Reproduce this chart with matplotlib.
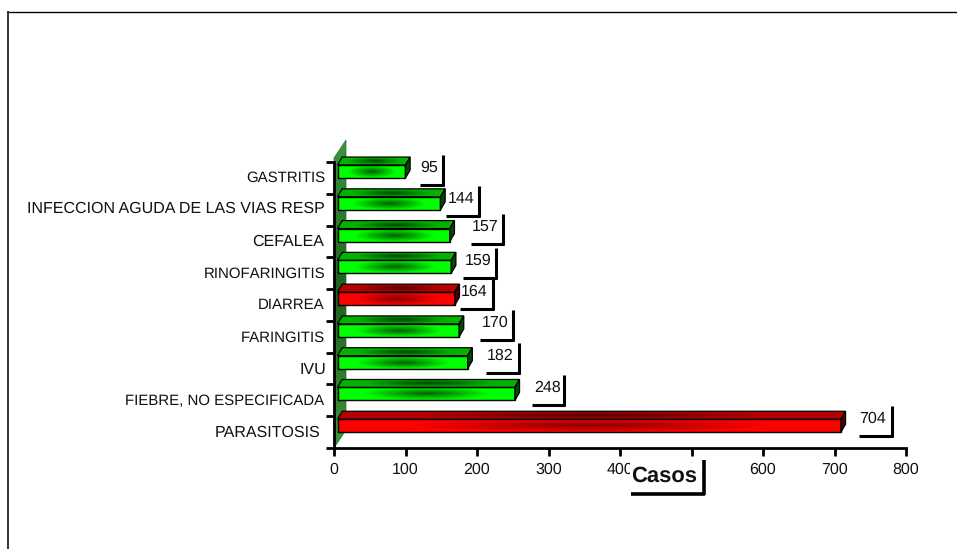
import numpy as np
import matplotlib
matplotlib.use("Agg")
import matplotlib.pyplot as plt
from matplotlib.patches import Polygon
from matplotlib.colors import LinearSegmentedColormap
from matplotlib.lines import Line2D

plt.rcParams['font.family'] = ['Liberation Sans', 'DejaVu Sans']
plt.rcParams['text.hinting'] = 'no_hinting'
plt.rcParams['text.hinting_factor'] = 1

categories = ["PARASITOSIS", "FIEBRE, NO ESPECIFICADA", "IVU", "FARINGITIS", "DIARREA",
              "RINOFARINGITIS", "CEFALEA", "INFECCION AGUDA DE LAS VIAS RESP", "GASTRITIS"]
values = [704, 248, 182, 170, 164, 159, 157, 144, 95]
highlight = [True, False, False, False, True, False, False, False, False]
x_ticks = [0, 100, 200, 300, 400, 500, 600, 700, 800]

# layout, in reference pixels
W, H = 957, 549
label_right = [320, 324, 326, 325, 324, 325, 324, 325, 325]
label_y = [433, 401, 370, 338, 305, 274, 242, 209, 178]
label_size = [11.2, 11.0, 11.2, 11.0, 11.0, 11.0, 11.2, 11.6, 11.0]
callout_x = [873, 548, 500, 495, 474, 478, 485, 461, 429]
callout_y = [418, 387, 355, 322, 291, 260, 226, 198, 167]
callout_vx = [892, 564, 519, 513, 493, 496, 503, 479, 443]
callout_left = [859, 532, 486, 480, 460, 463, 471, 446, 420]

AX_TOP = 135
fig = plt.figure(figsize=(W / 100, H / 100), dpi=100, facecolor='white')
ax = fig.add_axes([334 / W, 1 - 448 / H, (906 - 334) / W, (448 - AX_TOP) / H])
px_x = 800 / (906 - 334)
px_y = 9 / (448 - 162)
ymax = (448 - AX_TOP) * px_y
ax.set_xlim(0, 800)
ax.set_ylim(0, ymax)
ax.patch.set_alpha(0)

def fx(x): return x / W
def fy(y): return 1 - y / H
def fline(xs, ys, color='black', lw=2.2, z=20):
    fig.add_artist(Line2D([fx(v) for v in xs], [fy(v) for v in ys], color=color, lw=lw,
                          solid_capstyle='butt', zorder=z))

# outer frame
fline([7, 957], [11.5, 11.5], lw=1.0)
fline([8, 8], [11, 549], color='#333333', lw=1.4)

front_left = 3.5 * px_x
depth_x = 4.7 * px_x
depth_y = 8 * px_y
row_h = 13 * px_y

def blob(dark, bright):
    cmap = LinearSegmentedColormap.from_list('c', [dark, bright])
    xx, yy = np.meshgrid(np.linspace(-1, 1, 300), np.linspace(-1, 1, 40))
    d = np.sqrt((xx / 0.72) ** 2 + (yy / 1.0) ** 2)
    return np.clip(d, 0, 1) ** 1.1, cmap

palette = {
    True: dict(front=('#8a0000', '#ff0000'), top=('#5a0000', '#b80000'), side='#4a0000'),
    False: dict(front=('#006400', '#00ff00'), top=('#004a00', '#00b400'), side='#004a00'),
}

# wall
wall_pts = [(0, 0), (12 * px_x, 18 * px_y), (12 * px_x, 308 * px_y), (0, 290 * px_y)]
wall = Polygon(wall_pts, closed=True, facecolor='none', edgecolor='#2c6e2c', lw=0.5, clip_on=False, zorder=2)
ax.add_patch(wall)
wall_cmap = LinearSegmentedColormap.from_list('w', ['#3c963c', '#1f5f1f', '#3c963c'])
wall_img = ax.imshow(np.linspace(0, 1, 100).reshape(-1, 1), extent=[0, 12 * px_x, 0, 308 * px_y],
                     cmap=wall_cmap, aspect='auto', zorder=1.5)
wall_img.set_clip_path(wall)

# bars
ys = [i + 0.70 for i in range(len(values))]
bars = ax.barh(ys, values, height=row_h, left=front_left, facecolor='none', edgecolor='black',
               lw=1.0, zorder=6, clip_on=False)
for v, y, hl, bar in zip(values, ys, highlight, bars):
    p = palette[hl]
    x0, x1 = front_left, front_left + v
    y0, y1 = y - row_h / 2, y + row_h / 2
    z, cm = blob(*p['front'])
    im = ax.imshow(z, extent=[x0, x1, y0, y1], cmap=cm, vmin=0, vmax=1, aspect='auto', zorder=5)
    im.set_clip_path(bar)
    top = Polygon([(x0, y1), (x1, y1), (x1 + depth_x, y1 + depth_y), (x0 + depth_x, y1 + depth_y)],
                  closed=True, facecolor='none', edgecolor='black', lw=0.9, zorder=6, clip_on=False)
    ax.add_patch(top)
    z, cm = blob(*p['top'])
    im = ax.imshow(z, extent=[x0, x1 + depth_x, y1, y1 + depth_y], cmap=cm, vmin=0, vmax=1,
                   aspect='auto', zorder=5)
    im.set_clip_path(top)
    ax.add_patch(Polygon([(x1, y0), (x1 + depth_x, y0 + depth_y), (x1 + depth_x, y1 + depth_y), (x1, y1)],
                         closed=True, facecolor=p['side'], edgecolor='black', lw=0.9, zorder=6, clip_on=False))
ax.set_xlim(0, 800)
ax.set_ylim(0, ymax)

# axes
for s in ('top', 'right'):
    ax.spines[s].set_visible(False)
for s in ('left', 'bottom'):
    ax.spines[s].set_linewidth(2.0)
    ax.spines[s].set_zorder(8)
ax.spines['left'].set_bounds(0, 9)
ax.set_xticks(x_ticks)
ax.set_yticks(range(10))
ax.set_yticklabels([])
ax.tick_params(axis='x', length=5.5, width=2, pad=5, labelsize=11.6, colors='black')
ax.tick_params(axis='y', length=5.5, width=2)
for lab in ax.get_xticklabels():
    lab.set_color('#111111')

# category labels
for name, r, y, size in zip(categories, label_right, label_y, label_size):
    fig.text(fx(r), fy(y), name, ha='right', va='center', fontsize=size, color='#111111')

# value callouts
for v, tx, ty, vx, lx in zip(values, callout_x, callout_y, callout_vx, callout_left):
    fig.text(fx(tx), fy(ty + 0.5), str(v), ha='center', va='center', fontsize=11.6, color='#111111', zorder=21)
    fline([vx, vx], [ty - 12, ty + 19], lw=2.2)
    fline([lx, vx + 1], [ty + 18, ty + 18], lw=2.2)

# axis title
fig.patches.append(plt.Rectangle((fx(630), fy(494)), 73 / W, 31 / H, transform=fig.transFigure,
                                 facecolor='white', edgecolor='none', zorder=15))
fig.text(fx(664), fy(476), "Casos", ha='center', va='center', fontsize=15.5, fontweight='bold',
         color='#111111', zorder=21)
fline([703.5, 703.5], [460, 495], lw=2.6)
fline([631, 705], [494, 494], lw=2.6)

fig.savefig("out.png", dpi=100, facecolor='white')
